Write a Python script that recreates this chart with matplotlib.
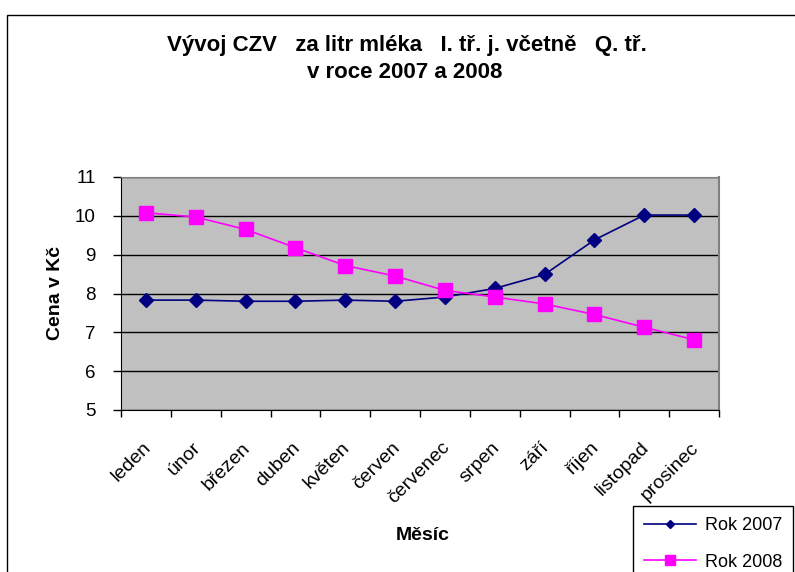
import matplotlib.pyplot as plt
import matplotlib.transforms as mtransforms
from matplotlib.patches import Rectangle

# data
mesice = ["leden", "únor", "březen", "duben", "květen", "červen",
          "červenec", "srpen", "září", "říjen", "listopad", "prosinec"]
rok2007 = [7.83, 7.83, 7.80, 7.80, 7.83, 7.80, 7.91, 8.13, 8.49, 9.38, 10.02, 10.02]
rok2008 = [10.08, 9.97, 9.65, 9.18, 8.72, 8.45, 8.08, 7.91, 7.73, 7.46, 7.13, 6.81]
yticks = [5, 6, 7, 8, 9, 10, 11]

plt.rcParams['font.family'] = ['Liberation Sans', 'DejaVu Sans']

fig = plt.figure(figsize=(7.95, 5.72), dpi=100)
# outer chart frame (clipped by the image edge)
fig.patches.append(Rectangle((7/795, -0.1), 1.2, 1 - 15/572 + 0.1,
                             transform=fig.transFigure, fill=False,
                             edgecolor='black', linewidth=1.0))

ax = fig.add_axes([121/795, 1 - 410/572, (719-121)/795, (410-177)/572])
ax.set_facecolor('#C0C0C0')

x = list(range(len(mesice)))
ax.plot(x, rok2007, color='#000080', lw=1.2, marker='D', ms=7,
        mfc='#000080', mec='#000080', label='Rok 2007')
ax.plot(x, rok2008, color='#FF00FF', lw=1.2, marker='s', ms=10.5,
        mfc='#FF00FF', mec='#FF00FF', label='Rok 2008')

ax.set_ylim(5, 11)
ax.set_yticks(yticks)
ax.set_xlim(-0.5, len(mesice) - 0.5)
ax.grid(axis='y', color='black', lw=1.0)
ax.set_axisbelow(True)

# ticks between categories, labels in the middle
ax.set_xticks([i - 0.5 for i in range(len(mesice) + 1)], minor=True)
ax.set_xticks(x)
ax.set_xticklabels(mesice, rotation=45, ha='right', fontsize=14,
                   rotation_mode='anchor', va='top')
ax.tick_params(axis='x', which='major', length=0, pad=21)
ax.tick_params(axis='x', which='minor', length=5, width=1, direction='out')
ax.tick_params(axis='y', length=6, width=1, labelsize=13.5, pad=12)
# small shift so the rotated labels end near the category centre
off = mtransforms.ScaledTranslation(-4/100, 0, fig.dpi_scale_trans)
for lab in ax.get_xticklabels():
    lab.set_transform(lab.get_transform() + off)

for s in ['left', 'bottom']:
    ax.spines[s].set_color('black')
ax.spines['top'].set_color('#808080')
ax.spines['right'].set_color('#808080')
ax.spines['right'].set_linewidth(1.5)

ax.set_ylabel('Cena v Kč', fontsize=14, fontweight='bold', labelpad=8)
fig.text(423/795, 1 - 535/572, 'Měsíc', fontsize=14, fontweight='bold',
         ha='center', va='center')
fig.text(407/795, 1 - 45/572,
         'Vývoj CZV   za litr mléka   I. tř. j. včetně   Q. tř.',
         fontsize=16, fontweight='bold', ha='center', va='center')
fig.text(405/795, 1 - 73/572, 'v roce 2007 a 2008',
         fontsize=16, fontweight='bold', ha='center', va='center')

leg = ax.legend(loc='upper left', bbox_to_anchor=(633/795, 1 - 506/572),
                bbox_transform=fig.transFigure, fontsize=13, frameon=True,
                fancybox=False, edgecolor='black', framealpha=1,
                labelspacing=1.1, handlelength=2.9, handletextpad=0.5,
                borderpad=0.6, borderaxespad=0, markerscale=0.65)
leg.get_frame().set_linewidth(1.0)

fig.savefig('out.png', dpi=100)
